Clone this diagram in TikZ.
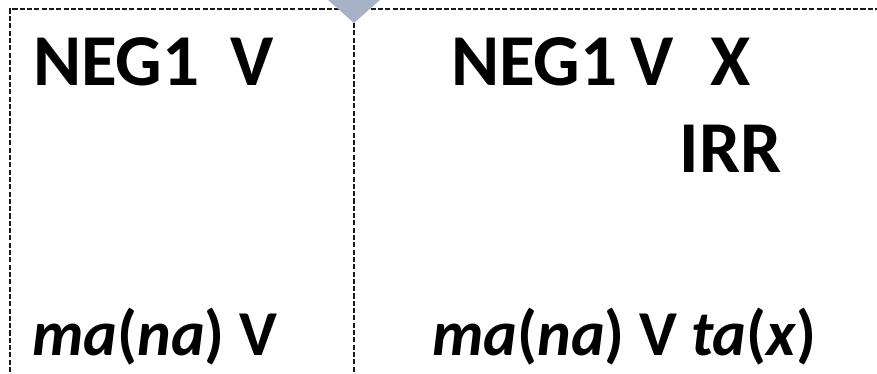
\documentclass[tikz,border=0pt]{standalone}
\usepackage{fontspec}
\setmainfont{Carlito}
\usepackage{tikz}
\usetikzlibrary{positioning, calc}
\definecolor{smark}{HTML}{A7B2C7}
\definecolor{sline}{HTML}{1A1A1A}
\tikzset{
  frame/.style={draw=sline, line width=0.9pt, dash pattern=on 3.6pt off 1.6pt},
  gloss/.style={anchor=base west, inner sep=0pt, font=\fontsize{52}{62}\selectfont\bfseries},
  form/.style={anchor=base west, inner sep=0pt, font=\fontsize{45.5}{55}\selectfont\bfseries}
}

\begin{document}
\begin{tikzpicture}
  \useasboundingbox (0,0) rectangle (21.925,9.35);
  \begin{scope}
    \clip (0,0) rectangle (21.925,9.35);
    % outer box, runs off the right and the bottom
    \draw[frame] (0.25,-0.5) rectangle (22.5,9.125);
    % marker on the top edge
    \fill[smark] (7.92,9.6) -- (9.78,9.6) -- (8.85,8.775) -- cycle;
    \coordinate (tip) at (8.85,8.775);
    \coordinate (foot) at (8.85,-0.2);
    \draw[frame] (tip) -- (foot);
  \end{scope}
  % left column
  \node[gloss] (negl) at (0.82,7.2) {NEG1\hspace{0.42em}V};
  \node[form] (mal) at (0.8,0.45) {\textit{ma}(\textit{na}) V};
  % right column
  \node[gloss] (negr) at (11.27,7.2) {NEG1\hspace{0.18em}V\hspace{0.5em}X};
  \node[gloss] (irr) at (16.98,5.025) {IRR};
  \node[form] (mar) at (10.8,0.45) {\textit{ma}(\textit{na}) V \textit{ta}(\textit{x})};
\end{tikzpicture}
\end{document}
